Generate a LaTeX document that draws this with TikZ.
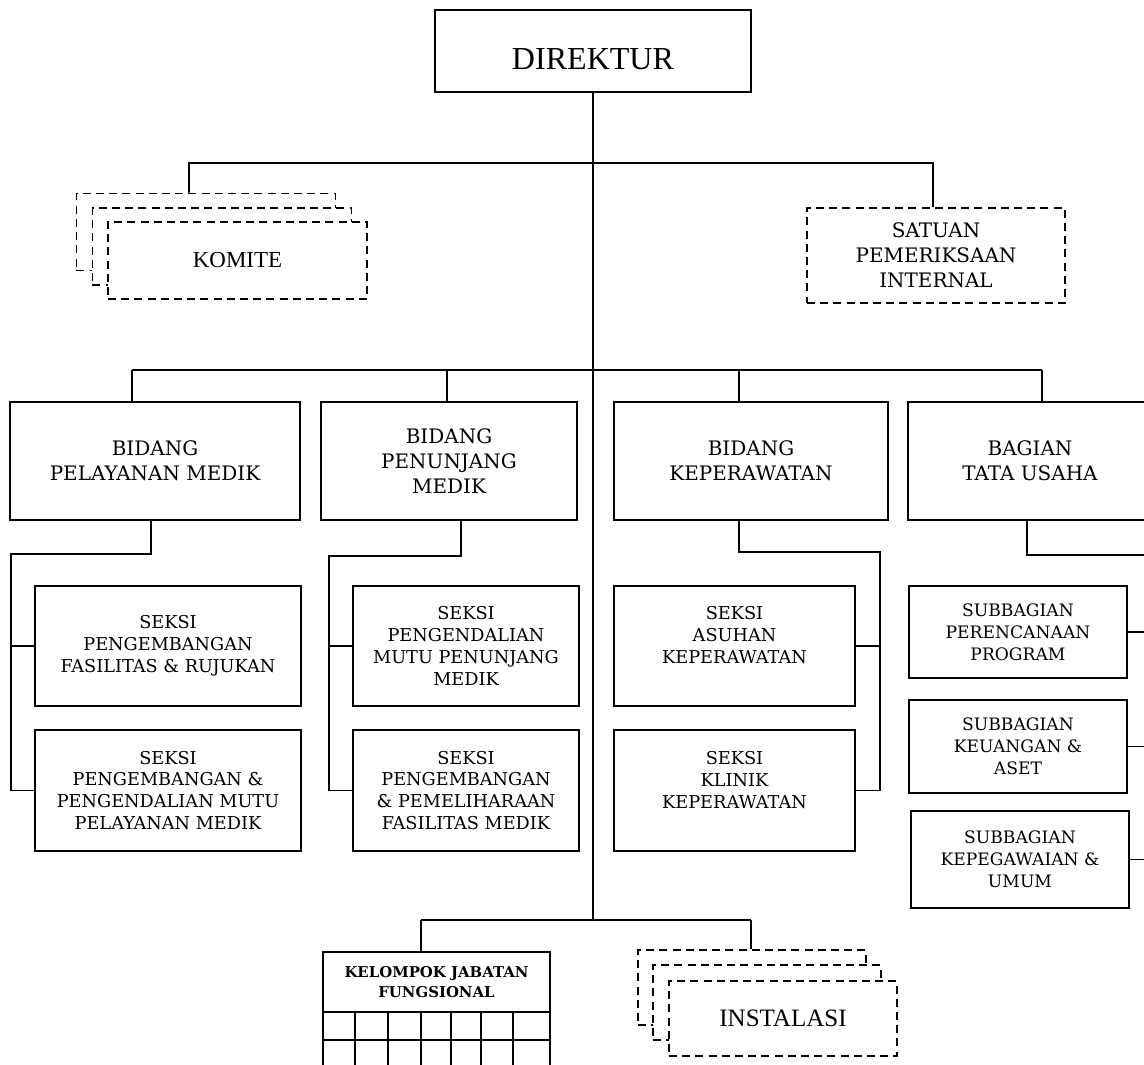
\documentclass[tikz,border=0pt]{standalone}
\usepackage{fontspec}
\setmainfont{DejaVu Serif}
\newfontfamily\tnr{Liberation Serif}
\usetikzlibrary{calc}
\tikzset{
  box/.style={draw, line width=1.3pt, fill=white, align=center, inner sep=1pt,
    font=\fontsize{12.6}{15.6}\selectfont},
  dbox/.style={box, dash pattern=on 2mm off 1.3mm},
  bid/.style={box, minimum height=29.5mm, font=\fontsize{14.2}{17.7}\selectfont},
  sub/.style={box, minimum width=54.5mm, font=\fontsize{12.2}{15.6}\selectfont},
  link/.style={line width=1.3pt}
}
\begin{document}
\begin{tikzpicture}[x=0.25mm,y=-0.25mm]
\clip (0,0) rectangle (1144,1064);
\fill[white] (0,0) rectangle (1144,1064);
% top
\node[box, minimum width=79mm, minimum height=20.5mm, text height=9mm, text depth=0mm, font=\tnr\fontsize{22.8}{26}\selectfont] (dir) at (593,51) {DIREKTUR};
\node[dbox, minimum width=64.75mm, minimum height=19.25mm] (k3) at (206,232) {};
\node[dbox, minimum width=64.75mm, minimum height=19.25mm] (k2) at (222,246.5) {};
\node[dbox, minimum width=64.75mm, minimum height=19.25mm, font=\tnr\fontsize{16.3}{19}\selectfont] (k1) at (237.5,260.5) {KOMITE};
\node[dbox, minimum width=64.5mm, minimum height=23.75mm, font=\fontsize{14.2}{17.7}\selectfont] (spi) at (936,255.5) {SATUAN\\PEMERIKSAAN\\INTERNAL};
% bidang
\node[bid, minimum width=72.5mm] (b1) at (155,461) {BIDANG\\PELAYANAN MEDIK};
\node[bid, minimum width=64mm] (b2) at (449,461) {BIDANG\\PENUNJANG\\MEDIK};
\node[bid, minimum width=68.5mm] (b3) at (751,461) {BIDANG\\KEPERAWATAN};
\node[bid, minimum width=61mm] (b4) at (1030,461) {BAGIAN\\TATA USAHA};
% seksi
\node[box, minimum width=66.5mm, minimum height=30mm] (s11) at (168,646) {SEKSI\\PENGEMBANGAN\\FASILITAS \& RUJUKAN};
\node[box, minimum width=66.5mm, minimum height=30.25mm] (s12) at (168,790.5) {SEKSI\\PENGEMBANGAN \&\\PENGENDALIAN MUTU\\PELAYANAN MEDIK};
\node[box, minimum width=56.5mm, minimum height=30mm] (s21) at (466,646) {SEKSI\\PENGENDALIAN\\MUTU PENUNJANG\\MEDIK};
\node[box, minimum width=56.5mm, minimum height=30.25mm] (s22) at (466,790.5) {SEKSI\\PENGEMBANGAN\\\& PEMELIHARAAN\\FASILITAS MEDIK};
\node[box, minimum width=60.25mm, minimum height=30mm] (s31) at (734.5,646) {SEKSI\\ASUHAN\\KEPERAWATAN\\~};
\node[box, minimum width=60.25mm, minimum height=30.25mm] (s32) at (734.5,790.5) {SEKSI\\KLINIK\\KEPERAWATAN\\~};
\node[sub, minimum height=23mm] (t1) at (1018,632) {SUBBAGIAN\\PERENCANAAN\\PROGRAM};
\node[sub, minimum height=23.25mm] (t2) at (1018,746.5) {SUBBAGIAN\\KEUANGAN \&\\ASET};
\node[sub, minimum height=24.25mm] (t3) at (1020,859.5) {SUBBAGIAN\\KEPEGAWAIAN \&\\UMUM};
% bottom
\node[box, minimum width=56.75mm, minimum height=15mm, font=\bfseries\fontsize{10.6}{14}\selectfont] (kjf) at (436.5,982) {KELOMPOK JABATAN\\FUNGSIONAL};
\node[dbox, minimum width=57mm, minimum height=18.75mm] (i3) at (752,987.5) {};
\node[dbox, minimum width=57mm, minimum height=18.75mm] (i2) at (767,1002.5) {};
\node[dbox, minimum width=57mm, minimum height=18.75mm, font=\tnr\fontsize{17.8}{21}\selectfont] (i1) at (783,1018.5) {INSTALASI};
\foreach \x in {323,355,388,421,451,481,513,550} \draw[link] (\x,1012) -- (\x,1080);
\draw[link] (323,1040) -- (550,1040);
% lines
\coordinate (m) at (593,920);
\coordinate (ka) at (189,163);
\coordinate (sa) at (933,163);
\draw[link] (dir) -- (m);
\draw[link] ($(k3.north west)!.435!(k3.north east)$) -- (ka) -- (sa) -- (sa |- spi.north);
\coordinate (r1) at (132,370);
\coordinate (r4) at (1042,370);
\draw[link] (r1) -- (r4);
\foreach \x/\b in {132/b1,447/b2,739/b3,1042/b4}
  \draw[link] (\x,370) coordinate (c) -- (c |- \b.north);
\coordinate (p1) at (11,554);
\draw[link] ([xshift=-1mm]b1.south) |- (p1) |- (s12.west);
\draw[link] (s11.west) -- (s11.west -| p1);
\coordinate (p2) at (329,556);
\draw[link] ([xshift=3mm]b2.south) |- (p2) |- (s22.west);
\draw[link] (s21.west) -- (s21.west -| p2);
\coordinate (p3) at (880,552);
\draw[link] ([xshift=-3mm]b3.south) |- (p3) |- (s32.east);
\draw[link] (s31.east) -- (s31.east -| p3);
\coordinate (p4) at (1152,555);
\draw[link] ([xshift=-0.75mm]b4.south) |- (p4) |- (t3.east);
\draw[link] (t1.east) -- (t1.east -| p4);
\draw[link] (t2.east) -- (t2.east -| p4);
\coordinate (q1) at (421,920);
\coordinate (q2) at (751,920);
\draw[link] (q1) -- (q2);
\draw[link] (q1) -- (q1 |- kjf.north);
\draw[link] (q2) -- (q2 |- i3.north);
\end{tikzpicture}
\end{document}
